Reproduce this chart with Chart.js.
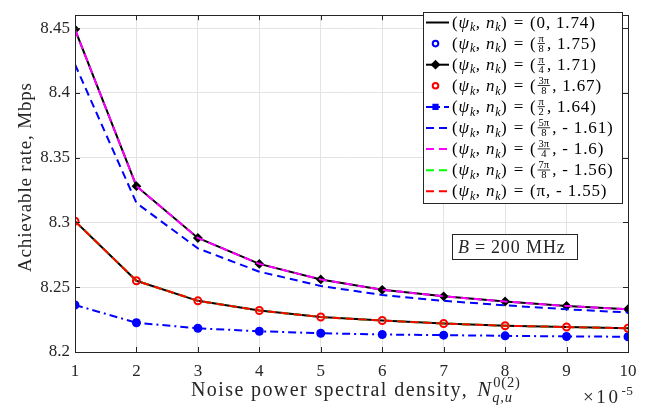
<!DOCTYPE html>
<html>
<head>
<meta charset="utf-8">
<script src="https://cdn.jsdelivr.net/npm/chart.js@4"></script>
<style>
  html, body { margin: 0; padding: 0; background: #fff; }
</style>
</head>
<body>
<canvas id="chart" width="649" height="408"></canvas>
<script>
// ---- data ----
const xVals = [1, 2, 3, 4, 5, 6, 7, 8, 9, 10];
const yTicks = [8.2, 8.25, 8.3, 8.35, 8.4, 8.45];
const rateUpper = [8.449, 8.328, 8.288, 8.268, 8.256, 8.248, 8.243, 8.239, 8.2355, 8.233];
const rateMid = [8.422, 8.315, 8.280, 8.262, 8.251, 8.244, 8.2395, 8.236, 8.233, 8.2305];
const rateLower = [8.301, 8.255, 8.2395, 8.232, 8.227, 8.2243, 8.222, 8.2203, 8.2193, 8.2183];
const rateBottom = [8.2363, 8.2226, 8.2183, 8.216, 8.2145, 8.2135, 8.213, 8.2125, 8.212, 8.2118];
const psiNum = ['', 'π', 'π', '3π', 'π', '5π', '3π', '7π', ''];
const psiDen = ['', '8', '4', '8', '2', '8', '4', '8', ''];
const psiPlain = ['0', '', '', '', '', '', '', '', 'π'];
const nLabels = ['1.74', '1.75', '1.71', '1.67', '1.64', '- 1.61', '- 1.6', '- 1.56', '- 1.55'];

const FONT = '"Liberation Serif", "DejaVu Serif", serif';
const INK = '#262626';

// style of each legend entry, in legend order
const styles = [
  { data: rateLower, color: '#000000', dash: [], line: true, marker: false },
  { data: rateBottom, color: '#0000ff', dash: [], line: false, marker: 'circle', fill: false },
  { data: rateUpper, color: '#000000', dash: [], line: true, marker: 'rectRot', fill: true },
  { data: rateLower, color: '#ff0000', dash: [], line: false, marker: 'circle', fill: false },
  { data: rateBottom, color: '#0000ff', dash: [8, 4, 2, 4], line: true, marker: 'rect', fill: true },
  { data: rateMid, color: '#0000ff', dash: [8, 5], line: true, marker: false },
  { data: rateUpper, color: '#ff00ff', dash: [8, 5], line: true, marker: false },
  { data: rateLower, color: '#00ff00', dash: [8, 5], line: true, marker: false },
  { data: rateLower, color: '#ff0000', dash: [8, 5], line: true, marker: false },
];

const N = styles.length;
const datasets = styles.map((s, i) => ({
  data: s.data.map((y, j) => ({ x: xVals[j], y })),
  borderColor: s.color,
  backgroundColor: s.fill ? s.color : 'rgba(0,0,0,0)',
  borderWidth: 2,
  borderDash: s.dash,
  showLine: s.line,
  pointStyle: s.marker || 'circle',
  pointRadius: s.marker ? (s.marker === 'rect' ? 3 : 3.5) : 0,
  pointBorderWidth: 2,
  pointBorderColor: s.color,
  pointBackgroundColor: s.fill ? s.color : 'rgba(0,0,0,0)',
  tension: 0,
  order: N - 1 - i,
}));

// text one char at a time so we can spread it like the LaTeX original
function spread(ctx, str, x, y, ls) {
  for (const ch of str) {
    ctx.fillText(ch, x, y);
    x += ctx.measureText(ch).width + ls;
  }
  return x;
}

// runs: {t, it, sub, sup, gap, size, ls, frac:[num,den], supsub:[sup,sub]}
function drawRuns(ctx, runs, x, y, size, ls = 0) {
  ctx.textBaseline = 'alphabetic';
  ctx.textAlign = 'left';
  for (const r of runs) {
    if (r.gap) { x += r.gap; continue; }
    if (r.frac) {
      const fs = size * 0.62;
      ctx.font = `${fs}px ${FONT}`;
      const w = Math.max(ctx.measureText(r.frac[0]).width, ctx.measureText(r.frac[1]).width) + 2;
      const axis = y - size * 0.3;
      ctx.textAlign = 'center';
      ctx.fillText(r.frac[0], x + w / 2 + 1, axis - 2);
      ctx.fillText(r.frac[1], x + w / 2 + 1, axis + fs * 0.78);
      ctx.textAlign = 'left';
      ctx.fillRect(x + 1, axis - 0.5, w, 0.8);
      x += w + 3;
      continue;
    }
    if (r.supsub) {
      const fs = r.size || size * 0.7;
      ctx.font = `${fs}px ${FONT}`;
      const e1 = spread(ctx, r.supsub[0], x + 1, y - size * 0.45, 0.8);
      ctx.font = `italic ${fs}px ${FONT}`;
      const e2 = spread(ctx, r.supsub[1], x, y + size * 0.28, 0.8);
      x = Math.max(e1, e2);
      continue;
    }
    const fs = r.size || ((r.sub || r.sup) ? size * 0.7 : size);
    ctx.font = `${r.it ? 'italic ' : ''}${fs}px ${FONT}`;
    const dy = r.sub ? size * 0.22 : r.sup ? -size * 0.42 : 0;
    const sp = r.ls != null ? r.ls : ((r.sub || r.sup) ? ls * 0.7 : ls);
    x = spread(ctx, r.t, x, y + dy, sp);
  }
  return x;
}

function drawMarker(ctx, s, x, y) {
  if (!s.marker) return;
  ctx.fillStyle = s.fill ? s.color : '#ffffff';
  Chart.helpers.drawPoint(ctx, {
    pointStyle: s.marker, radius: s.marker === 'rect' ? 3 : (s.marker === 'circle' ? 2.8 : 3.5),
    rotation: 0, borderWidth: 2,
  }, x, y);
}

const decor = {
  id: 'decor',
  afterDraw(chart) {
    const ctx = chart.ctx;
    const a = chart.chartArea;
    const xs = chart.scales.x, ys = chart.scales.y;
    ctx.save();

    // box with inward ticks
    ctx.strokeStyle = INK;
    ctx.lineWidth = 1;
    ctx.setLineDash([]);
    ctx.strokeRect(Math.round(a.left) + 0.5, Math.round(a.top) + 0.5,
      Math.round(a.right - a.left), Math.round(a.bottom - a.top));
    ctx.beginPath();
    xVals.forEach((v) => {
      const px = Math.round(xs.getPixelForValue(v)) + 0.5;
      ctx.moveTo(px, a.bottom); ctx.lineTo(px, a.bottom - 5);
      ctx.moveTo(px, a.top); ctx.lineTo(px, a.top + 5);
    });
    yTicks.forEach((v) => {
      const py = Math.round(ys.getPixelForValue(v)) + 0.5;
      ctx.moveTo(a.left, py); ctx.lineTo(a.left + 5, py);
      ctx.moveTo(a.right, py); ctx.lineTo(a.right - 5, py);
    });
    ctx.stroke();

    ctx.fillStyle = INK;
    // x title
    const nx = drawRuns(ctx, [{ t: 'Noise power spectral density,' }], 191, 396, 20, 1.4);
    drawRuns(ctx, [
      { t: 'N', it: true, size: 21 }, { gap: 1 },
      { supsub: ['0(2)', 'q,u'], size: 14.5 },
    ], Math.max(nx + 9, 464), 396, 20, 0);
    // x exponent
    drawRuns(ctx, [{ t: '×10' }, { gap: 1 }, { t: '-5', sup: true, ls: 0.3 }], 583, 403, 19, 2.6);
    // y title
    ctx.save();
    ctx.translate(31, 83);
    ctx.rotate(-Math.PI / 2);
    ctx.font = `19px ${FONT}`;
    ctx.textBaseline = 'alphabetic';
    ctx.textAlign = 'left';
    const yt = 'Achievable rate, Mbps';
    let w = 0;
    for (const ch of yt) w += ctx.measureText(ch).width;
    spread(ctx, yt, -189, 0, (189 - w) / (yt.length - 1));
    ctx.restore();

    // B box
    ctx.fillStyle = '#ffffff';
    ctx.fillRect(452.5, 234.5, 125, 25);
    ctx.strokeStyle = INK;
    ctx.strokeRect(452.5, 234.5, 125, 25);
    ctx.fillStyle = INK;
    drawRuns(ctx, [{ t: 'B', it: true }, { gap: 5 }, { t: '=' }, { gap: 5 }, { t: '200 MHz' }], 458, 253, 18, 0.9);

    // legend
    const lx = 423.5, ly = 12.5, lw = 199, lh = 191, row = 21.1;
    ctx.fillStyle = '#ffffff';
    ctx.fillRect(lx, ly, lw, lh);
    ctx.strokeStyle = INK;
    ctx.strokeRect(lx, ly, lw, lh);
    styles.forEach((s, i) => {
      const cy = 22.5 + i * row;
      ctx.strokeStyle = s.color;
      ctx.fillStyle = s.color;
      ctx.lineWidth = 2;
      if (s.line) {
        ctx.setLineDash(s.dash);
        ctx.beginPath();
        ctx.moveTo(426, cy); ctx.lineTo(449, cy);
        ctx.stroke();
      }
      ctx.setLineDash([]);
      drawMarker(ctx, s, 435.5, cy);
      ctx.fillStyle = '#000000';
      const psi = psiPlain[i] ? { t: psiPlain[i] } : { frac: [psiNum[i], psiDen[i]] };
      drawRuns(ctx, [
        { t: '(' }, { t: 'ψ', it: true }, { t: 'k', it: true, sub: true },
        { t: ',' }, { gap: 5 }, { t: 'n', it: true }, { t: 'k', it: true, sub: true },
        { t: ')' }, { gap: 6 }, { t: '=' }, { gap: 6 }, { t: '(' }, psi,
        { t: ',' }, { gap: 5 }, { t: nLabels[i] + ')' },
      ], 452, cy + 5, 17, 0.85);
    });
    ctx.restore();
  },
};

new Chart(document.getElementById('chart'), {
  type: 'scatter',
  data: { datasets },
  options: {
    responsive: false,
    animation: false,
    devicePixelRatio: 1,
    layout: { padding: { top: 5, right: 21, left: 0, bottom: 0 } },
    plugins: { legend: { display: false }, tooltip: { enabled: false } },
    scales: {
      x: {
        type: 'linear', min: 1, max: 10,
        afterFit: (s) => { s.height = 56; },
        afterBuildTicks: (s) => { s.ticks = xVals.map((v) => ({ value: v })); },
        grid: { color: '#e3e3e3', drawTicks: false },
        border: { display: false },
        ticks: { padding: 9, color: INK, font: { family: FONT, size: 17 }, maxRotation: 0 },
      },
      y: {
        min: 8.2, max: 8.46,
        afterFit: (s) => { s.width = 75; },
        afterBuildTicks: (s) => { s.ticks = yTicks.map((v) => ({ value: v })); },
        grid: { color: '#e3e3e3', drawTicks: false },
        border: { display: false },
        ticks: {
          padding: 5, color: INK, font: { family: FONT, size: 17 },
          callback: (v) => String(+v.toFixed(2)),
        },
      },
    },
  },
  plugins: [decor],
});
</script>
</body>
</html>
